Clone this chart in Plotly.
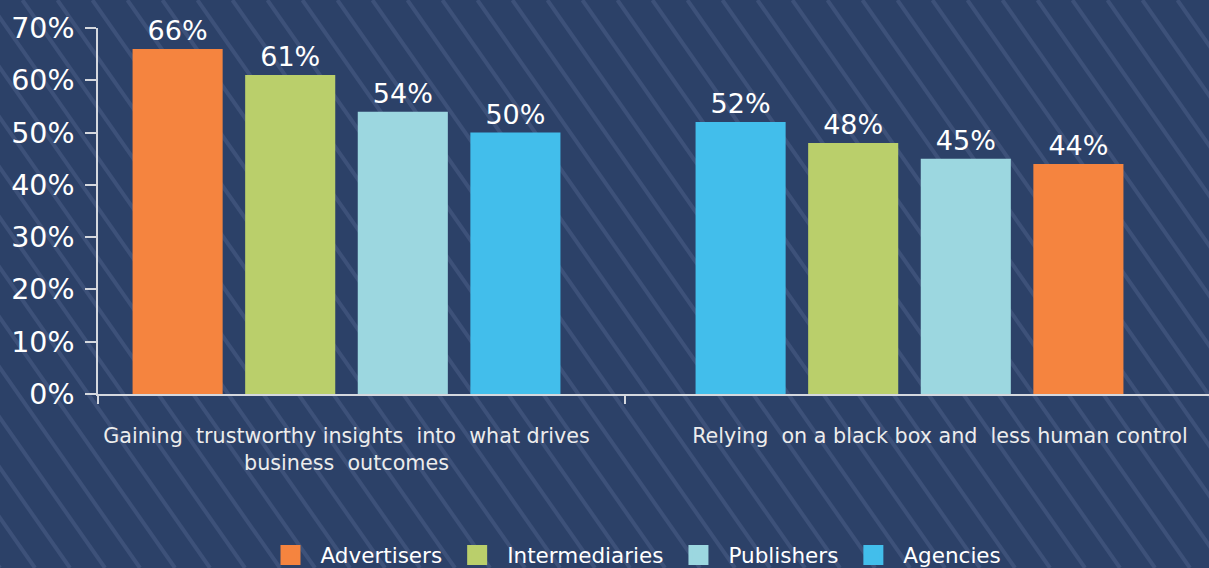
import plotly.graph_objects as go

# ---- data ----
categories = [
    "Gaining  trustworthy insights  into  what drives<br>business  outcomes",
    "Relying  on a black box and  less human control",
]
series_names = ["Advertisers", "Intermediaries", "Publishers", "Agencies"]
advertisers = [66, 44]
intermediaries = [61, 48]
publishers = [54, 45]
agencies = [50, 52]
series_values = [advertisers, intermediaries, publishers, agencies]
# slot of each series inside each group (left to right)
series_slots = [[0, 3], [1, 1], [2, 2], [3, 0]]
colors = ["#F5843F", "#BACF6B", "#9CD7E0", "#42BEEB"]
y_ticks = [0, 10, 20, 30, 40, 50, 60, 70]

BG = "#2C4168"
STRIPE = "#3D5179"
W, H = 1209, 568
L, R, T, B = 98, 0, 28, 174
FONT = "DejaVu Sans"

group_pos = [0, 1]
bar_w = 0.16
pitch = 0.2
x_left = -0.4414
x_right = 1.532
divider = 0.4947
label_pos = [0, 1.054]

fig = go.Figure()
for name, vals, slots, col in zip(series_names, series_values, series_slots, colors):
    fig.add_trace(go.Bar(
        x=group_pos, y=vals, name=name,
        width=[bar_w] * len(vals),
        offset=[-0.38 + s * pitch for s in slots],
        marker=dict(color=col, line=dict(width=0)),
        text=[f"{v}%" for v in vals], textposition="outside",
        textfont=dict(color="white", size=27, family=FONT),
        cliponaxis=False, showlegend=False, hoverinfo="skip",
    ))
    # legend entry
    fig.add_trace(go.Scatter(
        x=[None], y=[None], mode="markers", name=name,
        marker=dict(symbol="square", size=16, color=col, line=dict(color=col, width=4)),
    ))

# background stripes (decoration)
pw = W - L - R
ph = H - T - B
path = []
spacing = 35
dx = 0.7 * H
xs = -dx
while xs < W + 10:
    x0p, y0p = xs, 0
    x1p, y1p = xs + dx, H
    path.append(f"M{(x0p - L)/pw:.5f},{(H - B - y0p)/ph:.5f} L{(x1p - L)/pw:.5f},{(H - B - y1p)/ph:.5f}")
    xs += spacing
fig.add_shape(type="path", path=" ".join(path), xref="paper", yref="paper",
              line=dict(color=STRIPE, width=4), layer="below")

fig.update_layout(
    width=W, height=H,
    margin=dict(l=L, r=R, t=T, b=B, pad=0, autoexpand=False),
    paper_bgcolor=BG, plot_bgcolor="rgba(0,0,0,0)",
    barmode="overlay",
    font=dict(family=FONT, color="white"),
    xaxis=dict(
        range=[x_left, x_right], showgrid=False, zeroline=False,
        showline=True, linecolor="#D5D8DE", linewidth=1.5,
        tickvals=label_pos, ticktext=categories, ticks="",
        tickfont=dict(size=20.7, color="#ECECEC", family=FONT),
        ticklabelstandoff=22,
        minor=dict(tickvals=[x_left, divider], ticks="outside", ticklen=8,
                   tickcolor="#D5D8DE", tickwidth=1.5),
    ),
    yaxis=dict(
        range=[0, 70], tickvals=y_ticks, ticktext=[f"{v}%" for v in y_ticks],
        showgrid=False, zeroline=False, showline=True, linecolor="#D5D8DE", linewidth=1.5,
        ticks="outside", ticklen=11, tickcolor="#D5D8DE", tickwidth=1.5,
        tickfont=dict(size=28.5, color="white", family=FONT),
        ticklabelstandoff=5,
    ),
    legend=dict(
        orientation="h", x=0.482, xanchor="center", y=-0.44, yanchor="middle",
        font=dict(size=21.5, color="white", family=FONT),
        bgcolor="rgba(0,0,0,0)", itemsizing="trace", itemwidth=50,
    ),
    showlegend=True,
)

fig.write_html(
    "out.html",
    config={"displayModeBar": False},
    post_script="document.body.style.margin='0';document.body.style.padding='0';document.body.style.overflow='hidden';",
)
